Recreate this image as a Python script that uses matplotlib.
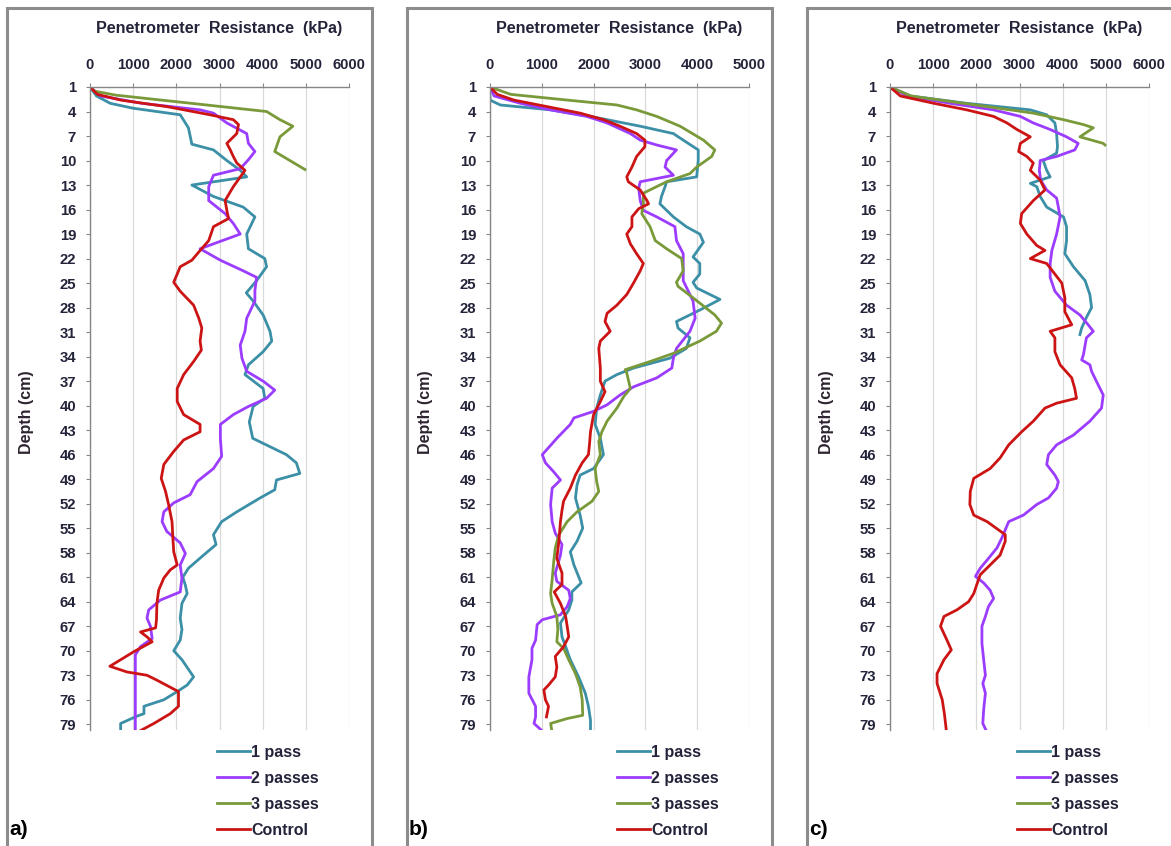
import matplotlib
matplotlib.use("Agg")
import matplotlib.pyplot as plt
from matplotlib.patches import Rectangle

plt.rcParams["font.family"] = ["Liberation Sans", "DejaVu Sans"]
plt.rcParams["font.weight"] = "bold"

W, H = 1171, 846

SERIES = ["1 pass", "2 passes", "3 passes", "Control"]
COLORS = ["#3b8fa6", "#9b3cff", "#7a9a3a", "#cc1414"]
PANELS = ["a)", "b)", "c)"]
XMAX = [6000, 5000, 6000]
DEPTH_TICKS = list(range(1, 80, 3))

# ---- panel a ----
A1_DEPTH = [1, 2.1, 3.0, 3.6, 4.4, 6.0, 7.0, 8.0, 8.7, 10.0, 11.2, 12.0, 13.0, 14.4, 15.7, 16.9, 19.0, 20.8, 22.0,
            23.0, 24.7, 26.2, 27.2, 28.9, 30.9, 32.1, 33.4, 35.0, 36.2, 37.9, 39.1, 40.1, 42.0, 44.0, 46.0, 47.0,
            48.3, 49.1, 50.3, 51.3, 53.0, 54.2, 55.8, 57.0, 58.3, 59.9, 61.0, 62.0, 63.0, 64.2, 66.0, 67.4, 68.7,
            70.0, 71.1, 73.2, 74.2, 75.0, 76.0, 76.8, 77.7, 78.0, 78.9, 80.0]
A1_KPA = [0, 150, 470, 1000, 2090, 2280, 2320, 2360, 2860, 3170, 3480, 3630, 2360, 2860, 3550, 3820, 3630, 3670,
          4050, 4090, 3860, 3620, 3780, 4010, 4170, 4210, 4010, 3670, 3590, 4010, 4050, 3780, 3690, 3770, 4550,
          4780, 4860, 4320, 4280, 3940, 3400, 3050, 2860, 2920, 2630, 2280, 2150, 2210, 2250, 2130, 2090, 2130,
          2090, 1940, 2130, 2400, 2250, 2020, 1710, 1250, 1250, 1090, 710, 710]
A2_DEPTH = [1, 2.1, 3.0, 3.8, 4.2, 5.4, 6.7, 7.9, 8.9, 9.9, 11.0, 11.8, 13.2, 14.9, 16.5, 17.7, 19.0, 20.8, 22.2,
            23.5, 24.3, 25.9, 27.2, 29.3, 30.9, 32.6, 34.2, 35.8, 37.0, 38.1, 39.1, 40.1, 41.1, 42.3, 44.0, 46.2,
            47.7, 49.3, 50.9, 51.9, 53.0, 54.2, 55.4, 56.8, 58.1, 59.5, 61.1, 62.8, 63.8, 65.0, 66.0, 67.0, 68.5,
            69.5, 70.5, 75.0, 80.0]
A2_KPA = [0, 250, 1200, 2550, 2860, 3170, 3630, 3670, 3820, 3670, 3480, 2860, 2750, 2750, 3130, 3320, 3480, 2550,
          3020, 3550, 3860, 3820, 3820, 3630, 3590, 3480, 3520, 3630, 4010, 4280, 4090, 3670, 3320, 3020, 3020,
          3050, 2860, 2480, 2320, 1940, 1710, 1670, 1780, 2090, 2210, 2090, 2130, 2090, 1630, 1360, 1320, 1400,
          1440, 1170, 1050, 1050, 1050]
A3_DEPTH = [1, 1.5, 2, 3, 4.0, 5.0, 5.8, 7.1, 8.9, 11.1]
A3_KPA = [0, 100, 600, 2350, 4090, 4400, 4700, 4400, 4280, 4980]
A4_DEPTH = [1, 1.9, 2.6, 3.4, 4.4, 5.0, 5.6, 6.7, 7.9, 8.7, 9.5, 10.3, 11.2, 13.2, 14.9, 16.1, 17.1, 18.1, 19.8,
            21.2, 22.2, 23.0, 24.9, 26.0, 27.7, 29.3, 30.5, 32.1, 33.2, 34.6, 36.2, 37.9, 39.5, 41.1, 42.3, 43.2,
            44.2, 45.6, 47.2, 48.9, 50.5, 52.1, 54.2, 56.2, 57.9, 59.5, 60.1, 61.1, 62.6, 64.2, 66.2, 67.2, 67.7,
            68.3, 68.9, 70.1, 71.1, 71.9, 72.6, 73.0, 73.6, 75.0, 76.8, 77.7, 78.9, 80.0]
A4_KPA = [0, 170, 710, 1780, 2780, 3320, 3440, 3400, 3170, 3250, 3320, 3400, 3590, 3320, 3130, 3170, 3210, 2860,
          2750, 2520, 2360, 2090, 1940, 2090, 2400, 2520, 2590, 2550, 2580, 2400, 2170, 2020, 2020, 2170, 2550,
          2550, 2170, 1940, 1710, 1650, 1750, 1820, 1900, 1920, 1940, 2020, 1860, 1710, 1590, 1550, 1540, 1520,
          1170, 1320, 1440, 1020, 710, 460, 860, 1320, 1550, 2050, 2050, 1860, 1480, 1090]

# ---- panel b ----
B1_DEPTH = [1, 2.6, 3.2, 3.8, 4.6, 5.8, 6.7, 7.5, 8.7, 10.0, 12.0, 12.6, 13.2, 14.4, 15.3, 16.9, 18.1, 19.0, 20.0,
            21.8, 22.6, 23.9, 24.9, 25.6, 27.0, 28.3, 29.7, 30.5, 31.7, 33.0, 34.2, 35.4, 36.2, 37.0, 38.7, 40.3,
            42.3, 44.0, 46.0, 47.7, 48.5, 49.7, 51.3, 53.4, 55.0, 56.6, 57.9, 59.5, 61.7, 62.8, 63.8, 65.0, 66.6,
            68.3, 69.5, 71.1, 73.2, 75.2, 76.8, 78.5, 80.0]
B1_KPA = [0, 0, 200, 1170, 1940, 2900, 3540, 3730, 4020, 4020, 3990, 3410, 3380, 3310, 3280, 3540, 3790, 4050,
          4120, 3920, 4050, 4050, 3920, 3990, 4440, 4050, 3600, 3630, 3860, 3790, 3470, 2770, 2450, 2220, 2130,
          2060, 2030, 2130, 2190, 2000, 1740, 1680, 1650, 1740, 1790, 1680, 1550, 1620, 1760, 1580, 1580, 1520,
          1360, 1390, 1460, 1550, 1710, 1840, 1900, 1940, 1940]
B2_DEPTH = [1, 2.1, 3.0, 3.8, 4.6, 5.4, 6.7, 7.5, 8.1, 8.7, 10.0, 10.8, 11.8, 12.6, 13.4, 14.9, 16.1, 16.9, 18.1,
            19.8, 21.4, 23.0, 24.7, 27.2, 29.3, 30.9, 33.0, 34.2, 35.4, 36.6, 37.7, 38.7, 39.9, 40.7, 41.5, 42.3,
            44.0, 46.0, 47.0, 48.1, 49.1, 50.1, 52.1, 54.2, 55.6, 57.0, 58.3, 60.5, 61.5, 62.6, 63.6, 64.6, 65.6,
            66.2, 66.8, 68.7, 69.7, 71.1, 73.2, 75.2, 76.8, 78.1, 78.9, 80.0]
B2_KPA = [0, 80, 590, 1170, 1870, 2260, 2710, 2900, 3220, 3600, 3410, 3380, 3540, 2900, 2870, 2900, 2960, 3220,
          3570, 3600, 3730, 3730, 3730, 3920, 3960, 3860, 3600, 3540, 3510, 3220, 2770, 2510, 2260, 2000, 1620,
          1550, 1290, 1010, 1070, 1230, 1360, 1200, 1170, 1200, 1260, 1390, 1360, 1260, 1290, 1520, 1550, 1490,
          1360, 1010, 910, 880, 810, 810, 750, 750, 880, 880, 850, 1040]
B3_DEPTH = [1, 1.9, 2.6, 3.2, 3.8, 4.6, 5.8, 7.5, 8.7, 9.5, 10.8, 11.6, 12.6, 13.4, 14.0, 15.3, 16.5, 18.1, 19.8,
            20.8, 22.0, 23.5, 24.9, 25.4, 26.8, 28.9, 29.9, 30.9, 32.1, 33.6, 34.6, 35.6, 36.0, 37.9, 38.9, 40.3,
            41.9, 43.2, 44.4, 46.0, 47.7, 49.3, 50.5, 51.7, 53.0, 54.2, 55.8, 57.4, 59.1, 61.3, 63.0, 64.2, 65.8,
            67.4, 68.9, 69.7, 71.1, 72.8, 74.4, 76.0, 77.9, 78.3, 78.9, 80.0]
B3_KPA = [0, 400, 1490, 2450, 2830, 3220, 3670, 4120, 4340, 4280, 3990, 3860, 3410, 3150, 2960, 2960, 2930, 3090,
          3190, 3410, 3700, 3730, 3600, 3630, 3920, 4340, 4470, 4370, 4050, 3540, 3090, 2610, 2640, 2710, 2580,
          2450, 2260, 2160, 2100, 2130, 2030, 2060, 2100, 1970, 1680, 1490, 1330, 1260, 1230, 1200, 1170, 1200,
          1290, 1310, 1290, 1420, 1520, 1650, 1740, 1780, 1790, 1490, 1170, 1200]
B4_DEPTH = [1, 1.9, 2.6, 3.4, 4.2, 5.0, 5.8, 6.7, 7.5, 8.3, 9.5, 10.8, 12.0, 12.6, 13.6, 14.9, 15.3, 15.9, 16.9,
            18.1, 19.0, 20.2, 21.4, 22.6, 23.5, 25.0, 26.4, 27.7, 28.7, 29.7, 30.9, 32.1, 33.0, 35.4, 37.0, 38.3,
            39.5, 41.1, 43.2, 44.8, 46.0, 47.0, 48.5, 50.1, 51.7, 52.8, 54.2, 56.6, 58.7, 60.5, 61.9, 62.8, 64.2,
            65.8, 67.0, 68.3, 69.5, 70.7, 72.0, 73.2, 74.2, 74.8, 76.0, 76.8, 78.1]
B4_KPA = [0, 140, 460, 1100, 1740, 2190, 2510, 2830, 2990, 2990, 2830, 2740, 2640, 2670, 2900, 3030, 3060, 2870,
          2740, 2740, 2640, 2710, 2830, 2960, 2900, 2770, 2640, 2450, 2260, 2220, 2320, 2130, 2100, 2130, 2130,
          2220, 2130, 2000, 1940, 1920, 1900, 1780, 1650, 1550, 1420, 1390, 1360, 1330, 1290, 1390, 1390, 1240,
          1360, 1460, 1490, 1520, 1420, 1260, 1290, 1260, 1130, 1040, 1070, 1130, 1090]

# ---- panel c ----
C1_DEPTH = [1, 2.1, 3.0, 3.8, 4.4, 5.4, 6.7, 8.3, 9.1, 10.0, 11.2, 12.0, 12.8, 13.2, 14.4, 15.7, 16.9, 18.1, 19.8,
            21.4, 23.0, 24.7, 26.4, 28.0, 29.2, 30.5, 31.3]
C1_KPA = [0, 480, 1780, 3250, 3630, 3820, 3860, 3880, 3860, 3550, 3630, 3710, 3250, 3400, 3480, 3630, 4020, 4090,
          4090, 4050, 4250, 4520, 4630, 4670, 4550, 4440, 4400]
C2_DEPTH = [1, 2.1, 3.0, 3.8, 4.6, 5.4, 6.2, 7.1, 7.9, 8.7, 9.5, 10.0, 11.2, 12.4, 13.6, 14.6, 15.7, 16.9, 19.0,
            21.0, 22.6, 24.3, 26.0, 27.7, 28.9, 30.1, 30.9, 31.7, 32.6, 33.8, 34.4, 35.0, 35.8, 37.0, 38.7, 40.3,
            41.9, 43.6, 44.8, 46.0, 47.2, 48.5, 49.3, 50.1, 51.3, 52.1, 53.4, 54.2, 55.2, 56.2, 57.4, 58.9, 59.9,
            60.9, 61.7, 62.6, 63.6, 64.6, 65.8, 67.0, 69.1, 71.1, 73.0, 74.0, 75.2, 77.2, 78.9, 80.0]
C2_KPA = [0, 400, 1400, 2400, 3020, 3320, 3710, 4090, 4360, 4280, 3860, 3480, 3460, 3490, 3630, 3860, 3900, 3940,
          3860, 3750, 3710, 3710, 3820, 4090, 4400, 4590, 4710, 4550, 4520, 4480, 4440, 4630, 4670, 4780, 4940,
          4900, 4630, 4250, 3860, 3670, 3630, 3820, 3900, 3860, 3670, 3400, 3090, 2750, 2670, 2590, 2480, 2250,
          2090, 1980, 2170, 2320, 2400, 2280, 2210, 2130, 2130, 2170, 2210, 2150, 2210, 2170, 2150, 2250]
C3_DEPTH = [1, 2.1, 3.4, 4.2, 5.0, 5.6, 6.0, 7.1, 7.9, 8.1]
C3_KPA = [0, 480, 2250, 3320, 4020, 4480, 4710, 4400, 4940, 4980]
C4_DEPTH = [1, 2.1, 3.0, 3.8, 4.6, 5.4, 6.2, 7.1, 7.9, 8.9, 9.5, 10.3, 11.2, 12.4, 13.6, 14.9, 16.5, 17.7, 19.0,
            20.4, 21.0, 22.0, 22.6, 23.9, 25.0, 26.8, 28.5, 30.1, 30.9, 31.7, 33.4, 35.0, 36.6, 37.9, 39.1, 39.7,
            40.3, 41.9, 43.2, 44.8, 46.4, 47.7, 48.9, 50.5, 52.1, 53.4, 54.2, 55.8, 56.6, 58.3, 59.5, 60.7, 61.3,
            63.0, 64.0, 65.0, 65.8, 67.0, 68.7, 69.9, 71.1, 72.8, 74.0, 76.0, 77.7, 80.0]
C4_KPA = [0, 240, 1020, 1780, 2400, 2710, 2940, 3250, 3020, 2980, 3170, 3320, 3250, 3480, 3590, 3320, 3050, 3020,
          3170, 3400, 3590, 3250, 3630, 3820, 3980, 4050, 4050, 4210, 3710, 3820, 3820, 3940, 4210, 4280, 4320,
          3860, 3590, 3320, 3050, 2750, 2550, 2320, 1940, 1860, 1850, 1940, 2250, 2670, 2670, 2550, 2320, 2090,
          2050, 1940, 1820, 1550, 1250, 1170, 1320, 1420, 1250, 1090, 1090, 1210, 1260, 1310]

DATA = [
    [(A1_DEPTH, A1_KPA), (A2_DEPTH, A2_KPA), (A3_DEPTH, A3_KPA), (A4_DEPTH, A4_KPA)],
    [(B1_DEPTH, B1_KPA), (B2_DEPTH, B2_KPA), (B3_DEPTH, B3_KPA), (B4_DEPTH, B4_KPA)],
    [(C1_DEPTH, C1_KPA), (C2_DEPTH, C2_KPA), (C3_DEPTH, C3_KPA), (C4_DEPTH, C4_KPA)],
]

TXT = "#23233a"
AXC = "#868686"

fig = plt.figure(figsize=(W / 100, H / 100), dpi=100)
fig.patch.set_facecolor("white")


def fx(px):
    return px / W


def fy(py):
    return 1 - py / H


for i in range(3):
    off = 400 * i
    # panel frame
    fig.patches.append(Rectangle((fx(off + 7), fy(852)), fx(365), fy(8) - fy(852),
                                 transform=fig.transFigure, fill=False,
                                 edgecolor="#8c8c8c", linewidth=2.2, zorder=0))
    ax = fig.add_axes([fx(off + 90), fy(730), fx(259), fy(87) - fy(730)])
    for j, (d, v) in enumerate(DATA[i]):
        ax.plot(v, d, color=COLORS[j], lw=2.0, label=SERIES[j], solid_joinstyle="round")
    ax.set_xlim(0, XMAX[i])
    ax.set_ylim(79.7, 1)
    ax.set_xticks(range(0, XMAX[i] + 1, 1000))
    ax.set_yticks(DEPTH_TICKS)
    ax.xaxis.tick_top()
    ax.grid(axis="x", color="#d9d9d9", lw=0.9)
    ax.set_axisbelow(True)
    for s in ["right", "bottom"]:
        ax.spines[s].set_visible(False)
    for s in ["left", "top"]:
        ax.spines[s].set_color(AXC)
        ax.spines[s].set_linewidth(1.0)
    ax.tick_params(axis="x", direction="out", length=3, color=AXC, pad=8, labelsize=10.7, labelcolor=TXT)
    ax.tick_params(axis="y", direction="out", length=3, color=AXC, pad=7, labelsize=10.7, labelcolor=TXT)
    for lab in ax.get_xticklabels() + ax.get_yticklabels():
        lab.set_fontweight("bold")

    fig.text(fx(off + 219.5), fy(28), "Penetrometer  Resistance  (kPa)", ha="center", va="center",
             fontsize=11.6, fontweight="bold", color=TXT)
    fig.text(fx(off + 26), fy(412), "Depth (cm)", ha="center", va="center", rotation=90,
             fontsize=11.5, fontweight="bold", color="#2e2330")
    fig.text(fx(off + 9), fy(829), PANELS[i], ha="left", va="center", fontsize=15,
             fontweight="bold", color="black")
    ax.legend(loc="upper left", bbox_to_anchor=(fx(off + 217), fy(745)), bbox_transform=fig.transFigure,
              frameon=False, handlelength=2.05, handletextpad=0.08, labelspacing=0.68, borderpad=0,
              borderaxespad=0, prop={"size": 11.5, "weight": "bold"}, labelcolor=TXT)

fig.savefig("out.png", dpi=100, facecolor="white")
